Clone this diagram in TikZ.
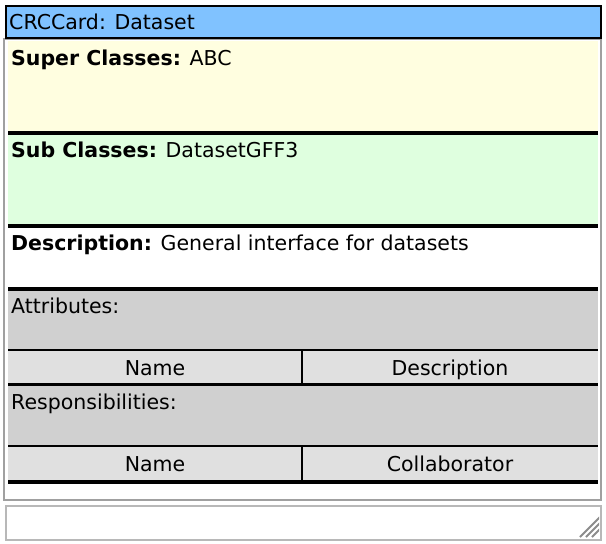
\documentclass[tikz,border=0pt]{standalone}
\usepackage{fontspec}
\setmainfont{DejaVu Sans}
\definecolor{headblue}{RGB}{128,194,255}
\definecolor{superyellow}{RGB}{255,254,224}
\definecolor{subgreen}{RGB}{223,255,223}
\definecolor{sectgray}{RGB}{208,208,208}
\definecolor{rowgray}{RGB}{224,224,224}
\definecolor{framegray}{RGB}{160,160,160}
\definecolor{fieldgray}{RGB}{184,184,184}
\definecolor{gripgray}{RGB}{140,140,140}
\tikzset{
  label text/.style={anchor=base west, inner sep=0pt, font=\fontsize{20.5}{24}\selectfont},
  col text/.style={anchor=base, inner sep=0pt, font=\fontsize{20.5}{24}\selectfont},
  heavy rule/.style={line width=4pt, black},
  light rule/.style={line width=2pt, black},
}
\begin{document}
\begin{tikzpicture}[x=1pt, y=-1pt]
\useasboundingbox (0,0) rectangle (606,544);
\fill[white] (0,0) rectangle (606,544);

% card body frame
\draw[framegray, line width=2pt] (4,39) rectangle (601,500);

% section backgrounds
\fill[superyellow] (8,41) rectangle (598,131);
\fill[subgreen] (8,135) rectangle (598,224);
\fill[white] (8,228) rectangle (598,287);
\fill[sectgray] (8,291) rectangle (598,350);
\fill[rowgray] (8,350) rectangle (598,384);
\fill[sectgray] (8,386) rectangle (598,446);
\fill[rowgray] (8,446) rectangle (598,480);

% section separators
\draw[heavy rule] (8,133) -- (598,133);
\draw[heavy rule] (8,226) -- (598,226);
\draw[heavy rule] (8,289) -- (598,289);
\draw[light rule] (8,350) -- (598,350);
\draw[line width=3pt] (8,384.5) -- (598,384.5);
\draw[light rule] (8,446) -- (598,446);
\draw[heavy rule] (8,482) -- (598,482);
\draw[light rule] (301.5,350) -- (301.5,384);
\draw[light rule] (301.5,446) -- (301.5,481);

% title bar
\draw[black, fill=headblue, line width=2.5pt] (6,6) rectangle (601,38);
\node[label text] (title) at (9,29.5) {CRCCard: Dataset};

% section texts
\node[label text] (super) at (11,65) {\textbf{Super Classes:} ABC};
\node[label text] (sub) at (11,157) {\textbf{Sub Classes:} DatasetGFF3};
\node[label text] (desc) at (11,250) {\textbf{Description:} General interface for datasets};
\node[label text] (attr) at (11,313) {Attributes:};
\node[col text] (attrname) at (155,375) {Name};
\node[col text] (attrdesc) at (450,375) {Description};
\node[label text] (resp) at (11,409) {Responsibilities:};
\node[col text] (respname) at (155,471) {Name};
\node[col text] (respcollab) at (450,471) {Collaborator};

% text field below the card
\draw[fieldgray, line width=2pt] (6,506) rectangle (601,540);
% resize grip
\begin{scope}
\clip (578,516) rectangle (599,538);
\foreach \d in {0,6,12} {
  \draw[gripgray, line width=1.8pt] (600,517+\d) -- (580+\d,537);
}
\end{scope}
\end{tikzpicture}
\end{document}
